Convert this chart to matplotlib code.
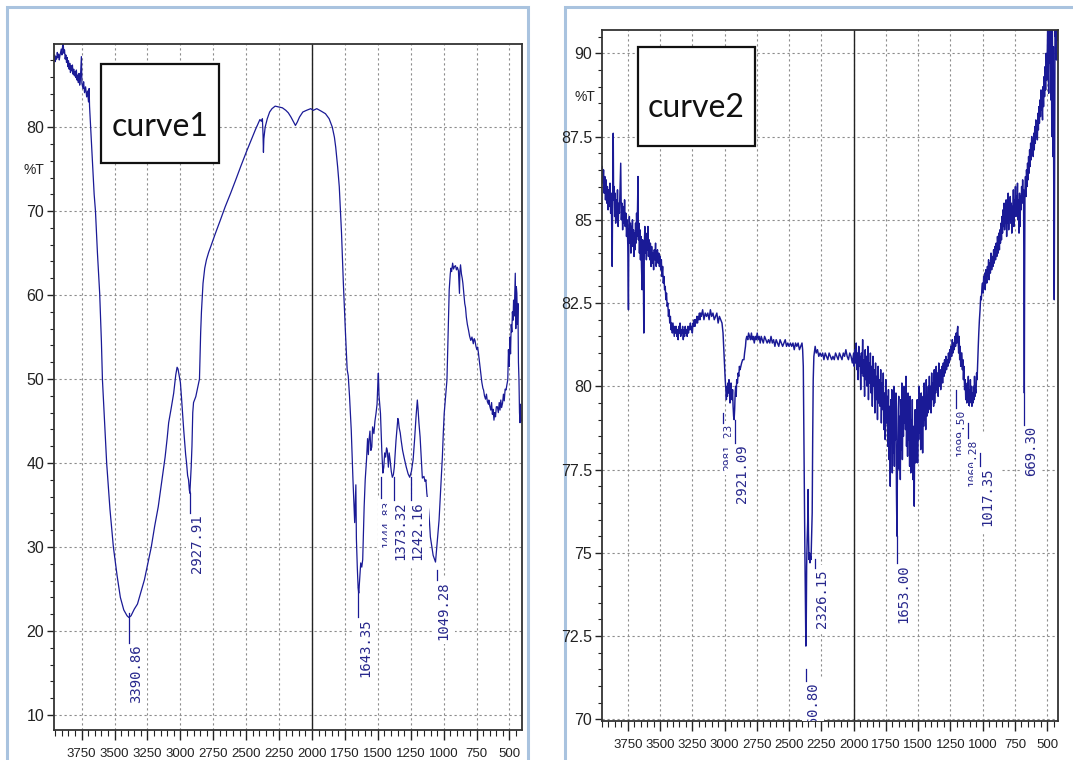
import matplotlib
matplotlib.use("Agg")
import matplotlib.pyplot as plt
from matplotlib.patches import Rectangle
from matplotlib.ticker import MultipleLocator, FuncFormatter

plt.rcParams['font.family'] = ['Liberation Sans Narrow', 'Liberation Sans', 'DejaVu Sans']

# ---------------- curve 1 (wavenumber, %T) ----------------
wn1 = [3960, 3955, 3950, 3945, 3940, 3935, 3930, 3925, 3920, 3915, 3910, 3905, 3900, 3895,
       3890, 3885, 3880, 3875, 3870, 3865, 3860, 3855, 3850, 3845, 3840, 3835, 3830, 3825,
       3820, 3815, 3810, 3805, 3800, 3795, 3790, 3785, 3780, 3775, 3770, 3765, 3760, 3752,
       3748, 3740, 3735, 3728, 3720, 3712, 3705, 3698, 3693, 3690, 3685, 3680, 3672, 3665,
       3655, 3645, 3630, 3613, 3600, 3592, 3575, 3560, 3535, 3509, 3480, 3456, 3430, 3405,
       3391, 3375, 3350, 3326, 3300, 3273, 3245, 3221, 3195, 3168, 3140, 3116, 3100, 3089,
       3070, 3051, 3035, 3025, 3018, 3008, 3000, 2992, 2975, 2960, 2953, 2945, 2938, 2932,
       2928, 2924, 2918, 2912, 2906, 2900, 2890, 2883, 2870, 2855, 2850, 2846, 2840, 2828,
       2815, 2802, 2785, 2771, 2735, 2697, 2660, 2619, 2580, 2542, 2500, 2461, 2430, 2405,
       2396, 2385, 2377, 2372, 2369, 2366, 2356, 2340, 2322, 2304, 2280, 2252, 2225, 2199,
       2180, 2160, 2140, 2126, 2112, 2095, 2070, 2042, 2010, 1990, 1964, 1930, 1898, 1870,
       1846, 1830, 1820, 1805, 1793, 1776, 1762, 1746, 1733, 1725, 1715, 1702, 1689, 1676,
       1670, 1667, 1663, 1656, 1650, 1645, 1637, 1630, 1622, 1615, 1604, 1596, 1586, 1578,
       1572, 1567, 1560, 1553, 1546, 1540, 1530, 1522, 1514, 1506, 1499, 1496, 1491, 1480,
       1470, 1462, 1455, 1448, 1441, 1434, 1428, 1420, 1414, 1407, 1398, 1390, 1382, 1375,
       1368, 1362, 1355, 1348, 1344, 1338, 1330, 1323, 1312, 1300, 1284, 1270, 1258, 1245,
       1232, 1220, 1210, 1200, 1195, 1188, 1179, 1170, 1162, 1150, 1142, 1135, 1128, 1122,
       1115, 1108, 1101, 1090, 1080, 1069, 1062, 1056, 1046, 1035, 1022, 1010, 1003, 996,
       985, 975, 968, 962, 958, 950, 945, 940, 932, 925, 918, 910, 903, 896, 888, 884, 880,
       877, 872, 865, 859, 854, 846, 840, 834, 828, 820, 811, 803, 794, 785, 775, 768, 762,
       755, 748, 742, 736, 728, 718, 710, 702, 697, 690, 682, 675, 668, 660, 657, 650, 642,
       636, 630, 624, 618, 612, 606, 600, 592, 585, 578, 572, 566, 560, 553, 546, 540, 533,
       526, 520, 513, 508, 502, 497, 492, 487, 482, 478, 473, 469, 464, 460, 456, 452, 448,
       444, 440, 436, 432, 428, 424, 420, 416, 410]
t1 = [88.0, 88.6, 87.8, 88.4, 88.1, 88.9, 88.3, 88.7, 88.0, 88.5, 88.9, 89.3, 88.6, 89.6,
      89.9, 88.8, 89.2, 88.1, 88.6, 87.7, 88.3, 87.2, 87.9, 86.9, 87.6, 86.5, 87.3, 86.7,
      87.4, 86.3, 86.9, 86.1, 86.6, 85.9, 86.8, 85.6, 86.2, 85.3, 86.4, 85.0, 85.6, 88.4,
      85.2, 84.6, 85.4, 84.1, 84.8, 83.6, 84.3, 83.0, 84.6, 82.5, 81.0, 79.6, 77.2, 74.8,
      72.0, 70.0, 65.0, 60.2, 54.5, 49.9, 44.5, 40.0, 34.5, 30.0, 26.5, 24.0, 22.5, 21.8,
      21.6, 21.8, 22.6, 23.2, 24.6, 26.1, 28.2, 30.0, 32.5, 34.8, 38.0, 40.7, 43.0, 44.8,
      46.5, 48.3, 50.5, 51.4, 51.2, 50.3, 49.6, 47.9, 44.0, 41.0, 40.0, 38.5, 38.0, 36.8,
      36.4, 37.6, 39.5, 42.0, 46.0, 47.2, 47.6, 47.9, 48.9, 50.0, 53.0, 55.5, 58.0, 61.4,
      63.2, 64.2, 65.1, 65.7, 67.3, 68.9, 70.5, 72.1, 73.7, 75.3, 77.0, 78.5, 79.7, 80.6,
      80.9, 80.7, 81.0, 79.0, 77.0, 78.6, 80.0, 81.0, 81.8, 82.2, 82.5, 82.4, 82.3, 82.0,
      81.7, 81.2, 80.6, 80.2, 80.6, 81.2, 81.8, 82.0, 82.2, 82.0, 82.2, 81.9, 81.6, 81.0,
      80.0, 78.8, 77.6, 75.2, 72.9, 67.4, 61.4, 55.5, 51.1, 50.4, 47.9, 43.9, 38.0, 32.9,
      36.0, 37.4, 31.0, 27.5, 25.2, 24.5, 26.5, 28.1, 27.6, 28.5, 34.8, 38.0, 40.4, 42.9,
      41.0, 42.7, 43.8, 41.5, 41.9, 44.3, 43.5, 45.0, 45.9, 47.0, 49.9, 50.7, 48.0, 45.9,
      41.5, 38.8, 39.5, 41.2, 40.7, 41.8, 41.5, 39.5, 41.2, 40.4, 39.0, 38.3, 38.6, 39.5,
      41.2, 42.7, 44.0, 45.3, 45.1, 44.2, 43.6, 42.7, 41.5, 40.6, 39.5, 38.7, 38.3, 39.0,
      40.4, 43.0, 45.5, 47.5, 46.5, 44.8, 43.1, 40.5, 38.2, 38.4, 37.8, 38.0, 36.4, 35.6,
      34.5, 33.0, 31.2, 30.0, 29.0, 28.5, 28.2, 29.3, 31.0, 33.2, 37.0, 40.7, 43.5, 45.9,
      48.0, 49.9, 54.0, 58.0, 60.6, 62.5, 63.2, 62.8, 63.8, 63.1, 63.4, 63.5, 63.0, 63.3,
      62.9, 61.5, 60.2, 62.8, 63.6, 62.5, 62.0, 61.4, 60.0, 59.0, 58.5, 57.4, 56.5, 55.8,
      55.1, 54.6, 55.0, 54.2, 54.8, 54.6, 53.9, 53.5, 53.8, 53.1, 52.0, 50.6, 49.6, 48.9,
      48.7, 48.0, 47.6, 48.2, 47.3, 47.0, 47.5, 46.8, 46.3, 47.2, 45.8, 46.4, 45.1, 46.0,
      45.5, 46.7, 46.7, 46.0, 47.2, 46.3, 47.5, 46.6, 47.1, 48.2, 47.4, 48.8, 48.7, 49.3,
      49.9, 53.5, 51.5, 55.0, 53.0, 56.5, 55.6, 58.0, 57.0, 59.4, 57.5, 60.2, 62.6, 56.0,
      61.0, 60.2, 56.5, 59.0, 52.0, 49.9, 46.0, 44.8, 47.0, 45.0]

# ---------------- curve 2 (wavenumber, %T) ----------------
wn2 = [3948, 3943, 3938, 3933, 3928, 3923, 3918, 3913, 3908, 3903, 3898, 3893, 3888, 3883,
       3878, 3874, 3871, 3868, 3865, 3863, 3860, 3856, 3852, 3848, 3844, 3840, 3835, 3830,
       3825, 3820, 3815, 3810, 3805, 3800, 3795, 3790, 3785, 3780, 3775, 3770, 3765, 3760,
       3755, 3750, 3745, 3742, 3738, 3734, 3730, 3726, 3722, 3718, 3714, 3710, 3706, 3702,
       3698, 3694, 3690, 3686, 3682, 3678, 3674, 3671, 3668, 3664, 3660, 3656, 3652, 3648,
       3644, 3639, 3635, 3630, 3626, 3622, 3618, 3614, 3610, 3606, 3602, 3598, 3594, 3590,
       3585, 3580, 3575, 3570, 3565, 3560, 3555, 3550, 3545, 3540, 3535, 3530, 3525, 3520,
       3515, 3510, 3505, 3500, 3495, 3490, 3485, 3480, 3475, 3470, 3465, 3460, 3455, 3450,
       3445, 3440, 3435, 3430, 3425, 3420, 3415, 3410, 3405, 3400, 3395, 3390, 3385, 3380,
       3375, 3370, 3365, 3360, 3355, 3350, 3345, 3340, 3335, 3330, 3325, 3320, 3315, 3310,
       3305, 3300, 3295, 3290, 3285, 3280, 3275, 3270, 3265, 3260, 3255, 3250, 3245, 3240,
       3235, 3230, 3225, 3220, 3215, 3210, 3205, 3200, 3195, 3190, 3185, 3180, 3170, 3160,
       3150, 3140, 3130, 3120, 3110, 3100, 3090, 3080, 3070, 3060, 3050, 3040, 3030, 3020,
       3012, 3005, 3000, 2995, 2990, 2986, 2982, 2978, 2974, 2970, 2966, 2962, 2958, 2954,
       2950, 2946, 2942, 2938, 2934, 2930, 2926, 2922, 2918, 2914, 2910, 2906, 2900, 2895,
       2890, 2885, 2880, 2874, 2868, 2860, 2850, 2845, 2838, 2834, 2828, 2820, 2814, 2807,
       2800, 2792, 2785, 2778, 2770, 2762, 2755, 2747, 2740, 2732, 2724, 2716, 2708, 2700,
       2690, 2680, 2670, 2660, 2650, 2640, 2630, 2620, 2610, 2600, 2590, 2580, 2570, 2560,
       2550, 2540, 2530, 2520, 2510, 2500, 2490, 2480, 2470, 2460, 2450, 2440, 2430, 2420,
       2410, 2400, 2395, 2390, 2386, 2382, 2378, 2374, 2370, 2367, 2364, 2360, 2356, 2353,
       2350, 2346, 2342, 2338, 2334, 2330, 2326, 2321, 2317, 2313, 2308, 2298, 2290, 2280,
       2270, 2260, 2250, 2240, 2230, 2220, 2210, 2200, 2190, 2180, 2170, 2160, 2150, 2140,
       2130, 2120, 2110, 2100, 2090, 2080, 2070, 2060, 2050, 2040, 2030, 2020, 2010, 2000,
       1995, 1990, 1985, 1980, 1975, 1970, 1965, 1960, 1955, 1950, 1945, 1940, 1935, 1930,
       1925, 1920, 1915, 1910, 1905, 1900, 1895, 1890, 1885, 1880, 1875, 1870, 1865, 1860,
       1855, 1850, 1845, 1840, 1835, 1830, 1825, 1820, 1815, 1810, 1805, 1800, 1795, 1790,
       1785, 1780, 1775, 1770, 1765, 1760, 1755, 1750, 1745, 1740, 1735, 1730, 1725, 1720,
       1716, 1712, 1708, 1704, 1700, 1696, 1692, 1688, 1684, 1680, 1676, 1672, 1668, 1664,
       1660, 1657, 1654, 1650, 1646, 1642, 1638, 1634, 1630, 1626, 1622, 1618, 1614, 1610,
       1606, 1602, 1598, 1594, 1590, 1586, 1582, 1578, 1574, 1570, 1566, 1562, 1557, 1553,
       1549, 1545, 1541, 1537, 1533, 1530, 1527, 1523, 1519, 1515, 1511, 1507, 1504, 1500,
       1496, 1492, 1488, 1484, 1480, 1476, 1472, 1468, 1465, 1461, 1457, 1453, 1449, 1445,
       1441, 1437, 1433, 1429, 1425, 1421, 1417, 1413, 1409, 1405, 1400, 1395, 1390, 1385,
       1380, 1375, 1372, 1368, 1364, 1360, 1355, 1350, 1345, 1340, 1335, 1330, 1325, 1320,
       1315, 1310, 1305, 1300, 1295, 1290, 1285, 1280, 1275, 1270, 1265, 1260, 1255, 1250,
       1245, 1240, 1235, 1230, 1225, 1220, 1215, 1210, 1205, 1200, 1196, 1193, 1190, 1186,
       1182, 1178, 1174, 1170, 1166, 1161, 1157, 1153, 1149, 1145, 1140, 1135, 1131, 1127,
       1123, 1119, 1115, 1111, 1107, 1103, 1099, 1095, 1091, 1087, 1083, 1079, 1075, 1071,
       1067, 1063, 1059, 1055, 1051, 1047, 1043, 1038, 1034, 1030, 1025, 1020, 1015, 1010,
       1005, 1001, 996, 992, 988, 984, 980, 976, 972, 968, 963, 958, 954, 950, 945, 940,
       935, 930, 925, 920, 915, 910, 905, 900, 895, 890, 885, 880, 875, 870, 866, 862, 858,
       854, 850, 846, 842, 838, 834, 830, 826, 822, 818, 814, 810, 806, 802, 798, 794, 790,
       786, 782, 778, 774, 770, 766, 762, 758, 754, 750, 746, 742, 738, 734, 730, 726, 722,
       718, 714, 710, 706, 702, 698, 694, 690, 686, 683, 681, 679, 677, 675, 672, 668, 664,
       660, 656, 652, 648, 644, 640, 636, 632, 628, 624, 620, 616, 612, 608, 604, 600, 596,
       592, 588, 584, 580, 576, 572, 568, 564, 560, 556, 552, 548, 544, 540, 536, 532, 528,
       524, 520, 516, 512, 508, 504, 500, 496, 492, 488, 484, 480, 476, 472, 468, 464, 460,
       456, 452, 448, 445, 442, 439, 436, 432, 428, 424, 420]
t2 = [86.6, 86.1, 86.5, 85.8, 86.3, 85.6, 86.2, 85.5, 86.0, 85.3, 85.9, 85.4, 86.1, 85.2,
      85.8, 84.6, 83.6, 85.5, 86.4, 87.6, 85.6, 86.0, 85.1, 85.8, 84.9, 85.6, 85.0, 85.9,
      84.8, 85.5, 85.2, 86.0, 86.7, 85.0, 85.5, 84.7, 85.4, 84.9, 85.6, 84.8, 85.2, 84.5,
      85.0, 84.2, 82.3, 84.6, 85.1, 84.3, 84.9, 84.0, 84.8, 84.4, 85.0, 84.2, 84.7, 83.9,
      84.6, 84.1, 84.9, 84.3, 85.2, 84.5, 85.6, 86.3, 84.4, 84.9, 84.0, 84.7, 83.8, 84.5,
      83.6, 82.9, 84.4, 83.5, 81.6, 84.2, 84.8, 84.0, 84.6, 83.8, 84.5, 84.1, 84.8, 83.9,
      84.4, 83.8, 84.3, 83.6, 84.2, 83.7, 84.0, 83.5, 84.1, 83.8, 84.3, 83.6, 83.9, 84.1,
      83.7, 84.0, 83.6, 83.9, 83.5, 83.8, 83.3, 83.6, 83.1, 83.3, 82.9, 83.0, 82.6, 82.8,
      82.4, 82.5, 82.1, 82.3, 81.9, 82.1, 81.7, 81.9, 81.6, 81.9, 81.7, 81.5, 81.8, 81.6,
      81.8, 81.5, 81.7, 81.4, 81.8, 81.6, 81.9, 81.5, 81.7, 81.6, 81.8, 81.4, 81.7, 81.5,
      81.8, 81.6, 81.7, 81.5, 81.8, 81.6, 81.8, 81.7, 81.9, 81.7, 81.8, 81.6, 81.9, 81.8,
      82.0, 81.8, 82.0, 81.9, 82.1, 81.9, 82.1, 82.0, 82.2, 82.0, 82.2, 82.1, 82.3, 82.0,
      82.2, 82.1, 82.2, 82.0, 82.3, 82.1, 82.2, 82.0, 82.1, 82.2, 81.9, 82.1, 82.0, 81.9,
      81.6, 81.0, 80.6, 80.2, 79.9, 79.6, 80.0, 79.7, 80.1, 79.8, 80.2, 80.0, 79.5, 79.8,
      80.1, 79.7, 79.6, 79.9, 79.4, 79.1, 79.0, 79.3, 79.8, 80.0, 79.7, 80.2, 80.1, 80.4,
      80.3, 80.6, 80.5, 80.6, 80.7, 80.8, 80.8, 81.0, 81.2, 81.4, 81.5, 81.4, 81.6, 81.5,
      81.4, 81.6, 81.4, 81.5, 81.3, 81.5, 81.4, 81.6, 81.4, 81.5, 81.3, 81.5, 81.4, 81.3,
      81.5, 81.4, 81.3, 81.4, 81.3, 81.5, 81.3, 81.4, 81.2, 81.4, 81.3, 81.2, 81.4, 81.3,
      81.2, 81.3, 81.4, 81.2, 81.3, 81.2, 81.3, 81.2, 81.3, 81.1, 81.3, 81.2, 81.3, 81.1,
      81.2, 81.3, 81.1, 80.6, 78.7, 76.5, 75.2, 73.6, 72.2, 72.9, 74.6, 75.4, 75.9, 76.9,
      75.6, 74.8, 75.0, 74.7, 74.9, 74.8, 75.4, 76.2, 78.5, 80.2, 80.9, 81.2, 81.0, 81.1,
      80.9, 81.0, 80.9, 81.0, 80.8, 81.0, 80.9, 80.8, 81.0, 80.9, 80.8, 80.9, 80.8, 81.0,
      80.9, 80.8, 81.0, 80.9, 80.8, 81.0, 80.9, 81.1, 80.9, 80.8, 81.0, 80.9, 80.7, 81.0,
      80.6, 81.1, 80.7, 81.3, 80.5, 81.0, 80.2, 81.2, 80.6, 80.9, 79.9, 81.0, 80.4, 81.4,
      80.3, 80.8, 79.7, 81.1, 80.2, 80.9, 80.0, 81.2, 79.6, 80.7, 80.1, 81.0, 79.8, 80.6,
      79.4, 80.9, 80.0, 80.5, 79.2, 80.7, 79.6, 80.3, 79.0, 80.6, 79.5, 80.2, 79.4, 80.5,
      78.9, 80.1, 79.3, 80.4, 78.7, 79.8, 78.4, 80.2, 78.9, 79.7, 78.2, 79.9, 77.8, 79.4,
      77.0, 79.6, 78.3, 79.9, 77.4, 79.2, 78.0, 80.0, 77.6, 79.5, 78.4, 79.8, 76.8, 75.5,
      77.9, 78.6, 79.3, 79.7, 77.5, 79.1, 77.2, 79.6, 78.1, 80.1, 77.8, 79.4, 78.5, 80.0,
      78.9, 79.6, 78.7, 80.3, 78.2, 79.5, 77.9, 79.8, 78.4, 79.2, 77.6, 79.7, 77.4, 79.0,
      78.0, 79.6, 77.2, 78.8, 76.9, 76.4, 78.5, 79.3, 77.7, 79.0, 78.2, 79.6, 77.7, 79.2,
      78.4, 80.0, 78.6, 79.4, 78.1, 79.8, 78.7, 79.3, 78.0, 79.7, 78.8, 80.1, 79.0, 79.6,
      78.7, 80.2, 79.1, 79.7, 79.2, 80.0, 79.3, 80.3, 79.5, 80.0, 79.2, 80.4, 79.6, 80.1,
      79.4, 80.5, 79.5, 80.2, 79.8, 80.6, 79.9, 80.4, 79.7, 80.7, 80.0, 80.5, 79.9, 80.3,
      80.6, 80.1, 80.7, 80.3, 80.8, 80.4, 80.9, 80.5, 80.8, 80.6, 81.0, 80.7, 81.1, 80.8,
      81.2, 80.9, 81.4, 81.0, 81.3, 81.1, 81.5, 81.2, 81.6, 81.3, 81.7, 81.8, 81.4, 81.0,
      81.5, 80.8, 81.2, 80.6, 81.0, 81.0, 80.5, 80.8, 80.2, 80.6, 79.9, 80.2, 79.6, 80.0,
      79.5, 80.1, 79.7, 80.3, 79.4, 79.9, 79.5, 80.2, 79.6, 80.0, 79.4, 79.8, 79.5, 80.0,
      79.6, 80.3, 79.7, 79.9, 79.8, 80.4, 80.2, 80.8, 81.2, 81.6, 82.0, 82.3, 82.7, 82.6,
      83.0, 83.1, 82.8, 83.3, 83.0, 83.4, 82.9, 83.5, 83.4, 83.1, 83.6, 83.3, 83.8, 83.2,
      83.7, 83.4, 84.0, 83.5, 83.9, 83.6, 84.1, 83.7, 84.2, 83.8, 84.3, 83.9, 84.5, 84.0,
      84.6, 84.1, 84.7, 84.3, 84.9, 84.4, 85.1, 84.6, 85.3, 84.8, 85.5, 84.7, 85.2, 84.9,
      85.6, 84.5, 85.4, 84.9, 85.8, 84.7, 85.3, 85.1, 85.7, 84.9, 85.5, 84.6, 85.4, 85.0,
      85.9, 84.8, 85.6, 85.2, 86.0, 85.1, 85.7, 85.4, 86.1, 85.0, 85.6, 84.6, 85.8, 84.8,
      85.7, 85.3, 86.0, 85.5, 86.2, 85.6, 85.9, 83.8, 80.8, 79.8, 82.9, 85.9, 86.3, 85.7,
      86.5, 86.0, 86.7, 86.2, 86.9, 86.4, 87.1, 86.6, 87.3, 86.8, 87.5, 87.0, 87.2, 86.9,
      87.6, 87.1, 87.8, 87.3, 88.0, 87.5, 87.9, 87.4, 88.2, 87.7, 88.4, 87.9, 88.6, 88.1,
      88.9, 88.3, 88.5, 88.0, 89.0, 88.4, 89.3, 88.7, 89.6, 88.9, 90.0, 89.2, 89.8, 90.8,
      89.5, 88.8, 90.9, 89.7, 90.9, 88.6, 90.9, 87.5, 90.9, 86.9, 90.2, 84.5, 82.6, 87.0,
      90.9, 90.5, 90.9, 89.8, 90.9, 90.4]

# peak labels: text, wavenumber, connector top / bottom (%T)
pk1_text = ["3390.86", "2927.91", "1643.35", "1444.83", "1373.32", "1242.16", "1049.28"]
pk1_x = [3388, 2927, 1650, 1473, 1381, 1251, 1054]
pk1_top = [22.1, 36.4, 25.2, 38.3, 38.3, 38.3, 27.3]
pk1_bot = [18.6, 34.0, 21.6, 35.8, 35.6, 35.6, 26.1]

pk2_text = ["2981.23", "2921.09", "2360.80", "2326.15", "1653.00", "1099.50", "1060.28",
            "1017.35", "669.30"]
pk2_x = [3012, 2919, 2369, 2299, 1666, 1206, 1113, 1020, 680]
pk2_top = [79.2, 79.0, 71.5, 74.8, 75.5, 79.9, 78.9, 78.0, 79.8]
pk2_bot = [78.9, 78.3, 71.15, 74.55, 74.7, 79.35, 78.45, 77.6, 78.85]

# label sizes / white-box padding (the half-hidden labels sit under a neighbour's box)
pk1_size = [10, 10, 10, 8, 10, 10, 10]
pk1_pad = [0.3, 0.3, 0.3, 0.3, 0.5, 0.3, 0.3]
pk2_size = [8, 10, 10, 10, 10, 8, 8, 10, 10]
pk2_pad = [0.3, 0.5, 0.3, 0.3, 0.3, 0.3, 0.63, 0.5, 0.3]

CURVE = '#1a1a96'
LABEL = '#27278c'
W, H = 1073, 760


def fbox(x0, y0, x1, y1):
    return [x0 / W, 1 - y1 / H, (x1 - x0) / W, (y1 - y0) / H]


fig = plt.figure(figsize=(W / 100, H / 100), dpi=100)

# blue window frames behind each panel
for x0, y0, x1, y1 in [(7, 7, 528, 800), (565, 7, 1100, 800)]:
    fig.add_artist(Rectangle(fbox(x0, y0, x1, y1)[:2], (x1 - x0) / W, (y1 - y0) / H,
                             transform=fig.transFigure, fill=False,
                             ec='#a9c3df', lw=2.2, zorder=0))


def panel(ax, wn, t, lw, xlim, ylim, ymaj, ymin, texts, xs, tops, bots, sizes, pads):
    ax.plot(wn, t, color=CURVE, lw=lw, zorder=2)
    ax.set_xlim(*xlim)
    ax.set_ylim(*ylim)
    ax.xaxis.set_major_locator(MultipleLocator(250))
    ax.xaxis.set_minor_locator(MultipleLocator(50))
    ax.yaxis.set_major_locator(MultipleLocator(ymaj))
    ax.yaxis.set_minor_locator(MultipleLocator(ymin))
    ax.yaxis.set_major_formatter(FuncFormatter(lambda v, p: f'{v:g}'))
    ax.grid(which='major', color='#8c8c8c', ls=(0, (2, 2.5)), lw=0.8)
    ax.set_axisbelow(True)
    ax.axvline(2000, color='#222222', lw=1.0, zorder=1.5)
    ax.tick_params(axis='x', which='major', direction='out', length=7, width=1,
                   pad=6, labelsize=9.5, colors='#222222')
    ax.tick_params(axis='x', which='minor', direction='out', length=4, width=0.8,
                   colors='#222222')
    ax.tick_params(axis='y', which='major', direction='out', length=5, width=1,
                   pad=2, labelsize=11.5, colors='#222222')
    ax.tick_params(axis='y', which='minor', direction='out', length=3, width=0.8,
                   colors='#222222')
    for s in ax.spines.values():
        s.set_color('#333333')
        s.set_linewidth(1.3)
    for s, x, y0, y1, fs, pad in zip(texts, xs, tops, bots, sizes, pads):
        ax.plot([x, x], [y0, y1], color=CURVE, lw=0.9, zorder=4)
        ax.text(x, y1 - 0.15 * ymaj / 10, s, rotation=90, ha='left', va='top',
                family='DejaVu Sans Mono', fontsize=fs, color=LABEL, zorder=3,
                clip_on=True,
                bbox=dict(boxstyle=f'square,pad={pad}', fc='white', ec='none'))


ax1 = fig.add_axes(fbox(54, 44, 522, 730))
panel(ax1, wn1, t1, 0.9, (3960, 405), (8.2, 89.9), 10, 2,
      pk1_text, pk1_x, pk1_top, pk1_bot, pk1_size, pk1_pad)
ax2 = fig.add_axes(fbox(602, 30, 1058, 721))
panel(ax2, wn2, t2, 1.05, (3950, 416), (69.95, 90.7), 2.5, 0.5,
      pk2_text, pk2_x, pk2_top, pk2_bot, pk2_size, pk2_pad)

# "%T" axis captions
fig.text(34 / W, 1 - 170 / H, '%T', ha='center', va='center', fontsize=10, color='#222222')
fig.text(585 / W, 1 - 97 / H, '%T', ha='center', va='center', fontsize=10, color='#222222')

# curve name boxes
for name, (x0, y0, x1, y1), base in [('curve1', (101, 64, 219, 163), 136),
                                      ('curve2', (638, 47, 755, 146), 117)]:
    fig.add_artist(Rectangle(fbox(x0, y0, x1, y1)[:2], (x1 - x0) / W, (y1 - y0) / H,
                             transform=fig.transFigure, fc='white', ec='#111111',
                             lw=1.6, zorder=5))
    fig.text((x0 + x1) / 2 / W, 1 - base / H, name, ha='center', va='baseline',
             family=['Lato', 'DejaVu Sans'], fontsize=23, color='#111111', zorder=6)

fig.savefig('out.png', dpi=100, facecolor='white')
